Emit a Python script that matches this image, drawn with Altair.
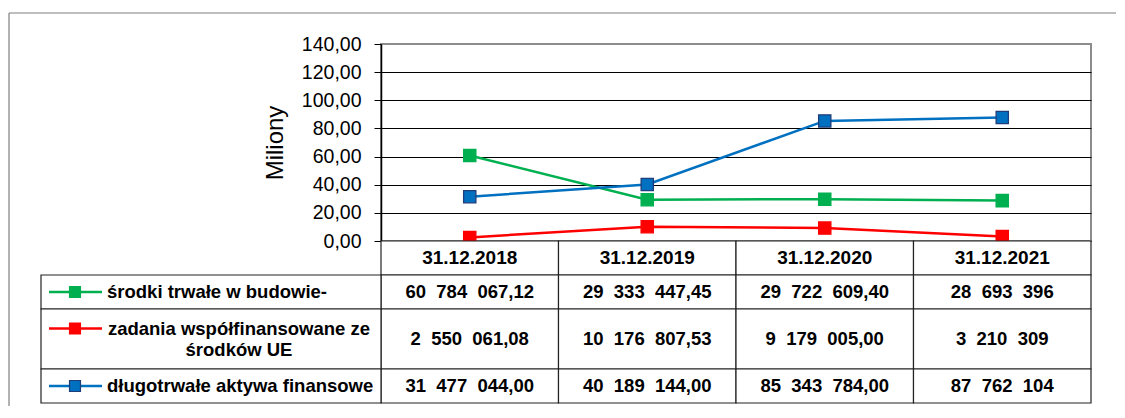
import altair as alt
import pandas as pd

# ---------------- data ----------------
dates = ["31.12.2018", "31.12.2019", "31.12.2020", "31.12.2021"]
series = [
    "środki trwałe w budowie-",
    "zadania współfinansowane ze\nśrodków UE",
    "długotrwałe aktywa finansowe",
]
srodki_trwale = ["60  784  067,12", "29  333  447,45", "29  722  609,40", "28  693  396"]
zadania_ue = ["2  550  061,08", "10  176  807,53", "9  179  005,00", "3  210  309"]
aktywa_fin = ["31  477  044,00", "40  189  144,00", "85  343  784,00", "87  762  104"]
table_values = [srodki_trwale, zadania_ue, aktywa_fin]

colors = ["#00B050", "#FF0000", "#0070C0"]
marker_strokes = ["#00B050", "#FF0000", "#1F3D7A"]
y_ticks = [0, 20, 40, 60, 80, 100, 120, 140]

FONT = "Liberation Sans, Arial, sans-serif"


def parse(s):
    return float(s.replace(" ", "").replace(",", ".")) / 1e6


def shown(s):
    # keep the double spaces visible in SVG
    return s.replace(" ", "\u00a0")


# ---------------- top: line chart ----------------
line_df = pd.DataFrame(
    [
        {"date": d, "series": s, "value": parse(v)}
        for s, vals in zip(series, table_values)
        for d, v in zip(dates, vals)
    ]
)

band = alt.Scale(type="band", paddingInner=0, paddingOuter=0)
x_top = alt.X("date:N", sort=dates, scale=band, axis=None, bandPosition=0.5)
y_top = alt.Y(
    "value:Q",
    scale=alt.Scale(domain=[0, 140], nice=False),
    axis=alt.Axis(
        values=y_ticks,
        labelExpr="replace(format(datum.value, '.2f'), '.', ',')",
        title="Miliony",
        grid=True,
        gridColor="#000000",
        gridWidth=1,
        gridOpacity={"condition": {"test": "datum.value === 140", "value": 0}, "value": 1},
        tickSize=7,
        tickColor="#000000",
        domainColor="#000000",
        domainWidth=1.5,
        labelFont=FONT,
        labelFontSize=19.5,
        labelColor="#000000",
        labelPadding=13,
        titleFont=FONT,
        titleFontSize=24,
        titleFontWeight="normal",
        titleColor="#000000",
        titlePadding=14,
    ),
)
color_top = alt.Color("series:N", scale=alt.Scale(domain=series, range=colors), legend=None)

base_top = alt.Chart(line_df)
lines = base_top.mark_line(strokeWidth=2.5).encode(x=x_top, y=y_top, color=color_top)
points = base_top.mark_point(shape="square", filled=True, size=150, opacity=1, strokeWidth=1.3).encode(
    x=x_top,
    y=y_top,
    color=color_top,
    stroke=alt.Stroke("series:N", scale=alt.Scale(domain=series, range=marker_strokes), legend=None),
)

top = alt.layer(lines, points).properties(
    width=710,
    height=197,
    view=alt.ViewBackground(stroke="#8c8c8c", strokeWidth=2),
)

# ---------------- bottom: data table ----------------
LINE_H = 21
row_lines = [1] + [s.count("\n") + 1 for s in series]
row_heights = [8 + 26 * n for n in row_lines]
tops = [sum(row_heights[:i]) for i in range(len(row_heights))]
total_h = sum(row_heights)

cells = []
for r in range(len(row_heights)):
    for j, d in enumerate(dates):
        cells.append(
            {
                "date": d,
                "top": tops[r],
                "bottom": tops[r] + row_heights[r],
                "mid": tops[r] + row_heights[r] / 2,
                "text": d if r == 0 else shown(table_values[r - 1][j]),
                "header": r == 0,
            }
        )
cells_df = pd.DataFrame(cells)

legend_df = pd.DataFrame(
    [
        {
            "series": s,
            "top": tops[i + 1],
            "bottom": tops[i + 1] + row_heights[i + 1],
            "mid": tops[i + 1] + row_heights[i + 1] / 2,
            "first": tops[i + 1] + row_heights[i + 1] / 2 - (row_lines[i + 1] - 1) * LINE_H / 2,
            "lines": row_lines[i + 1],
        }
        for i, s in enumerate(series)
    ]
)

y_tab = alt.Scale(domain=[0, total_h], reverse=True, nice=False, zero=False)
x_tab = alt.X("date:N", sort=dates, scale=band, axis=None)
x_tab_c = alt.X("date:N", sort=dates, scale=band, axis=None, bandPosition=0.5)

cell_rects = alt.Chart(cells_df).mark_rect(fill="white", stroke="#222222", strokeWidth=1.2).encode(
    x=x_tab,
    y=alt.Y("top:Q", scale=y_tab, axis=None),
    y2="bottom:Q",
)
header_text = alt.Chart(cells_df).transform_filter("datum.header").mark_text(
    font=FONT, fontSize=19, fontWeight="bold", color="#000000", baseline="middle", align="center"
).encode(
    x=x_tab_c,
    y=alt.Y("mid:Q", scale=y_tab, axis=None),
    text="text:N",
)
value_text = alt.Chart(cells_df).transform_filter("!datum.header").mark_text(
    font=FONT, fontSize=18.5, fontWeight="bold", color="#000000", baseline="middle", align="center"
).encode(
    x=x_tab_c,
    y=alt.Y("mid:Q", scale=y_tab, axis=None),
    text="text:N",
)

leg_color = alt.Color("series:N", scale=alt.Scale(domain=series, range=colors), legend=None)
leg_rects = alt.Chart(legend_df).mark_rect(fill="white", stroke="#222222", strokeWidth=1.2).encode(
    x=alt.value(-340),
    x2=alt.value(0),
    y=alt.Y("top:Q", scale=y_tab, axis=None),
    y2="bottom:Q",
)
leg_lines = alt.Chart(legend_df).mark_rule(strokeWidth=2.5).encode(
    x=alt.value(-332),
    x2=alt.value(-279),
    y=alt.Y("first:Q", scale=y_tab, axis=None),
    color=leg_color,
)
leg_points = alt.Chart(legend_df).mark_point(shape="square", filled=True, size=120, opacity=1, strokeWidth=1.2).encode(
    x=alt.value(-306),
    y=alt.Y("first:Q", scale=y_tab, axis=None),
    color=leg_color,
    stroke=alt.Stroke("series:N", scale=alt.Scale(domain=series, range=marker_strokes), legend=None),
)
leg_text_single = alt.Chart(legend_df).transform_filter("datum.lines == 1").mark_text(
    font=FONT, fontSize=18.5, fontWeight="bold", color="#000000", baseline="middle", align="left"
).encode(
    x=alt.value(-274),
    y=alt.Y("mid:Q", scale=y_tab, axis=None),
    text="series:N",
)
leg_text_multi = alt.Chart(legend_df).transform_filter("datum.lines > 1").mark_text(
    font=FONT, fontSize=18.5, fontWeight="bold", color="#000000", baseline="middle", align="center",
    lineBreak="\n", lineHeight=LINE_H,
).encode(
    x=alt.value(-142),
    y=alt.Y("first:Q", scale=y_tab, axis=None),
    text="series:N",
)

# outer chart-area frame (left and top edges)
frame_df = pd.DataFrame({"k": [0]})
frame_left = alt.Chart(frame_df).mark_rule(color="#7f7f7f", strokeWidth=1.2).encode(
    x=alt.value(-372), y=alt.value(-228), y2=alt.value(165)
)
frame_top = alt.Chart(frame_df).mark_rule(color="#7f7f7f", strokeWidth=1.2).encode(
    x=alt.value(-372), x2=alt.value(735), y=alt.value(-228)
)

bottom = alt.layer(
    cell_rects, leg_rects, header_text, value_text, leg_lines, leg_points, leg_text_single, leg_text_multi,
    frame_left, frame_top,
).properties(
    width=710,
    height=total_h,
    view=alt.ViewBackground(stroke=None),
)

chart = alt.vconcat(top, bottom, spacing=0, bounds="flush").properties(
    padding={"left": 0, "top": 4, "right": 0, "bottom": 0},
    background="white",
).configure_view(stroke=None)

chart.save("out.html", embed_options={"renderer": "svg", "actions": False})
